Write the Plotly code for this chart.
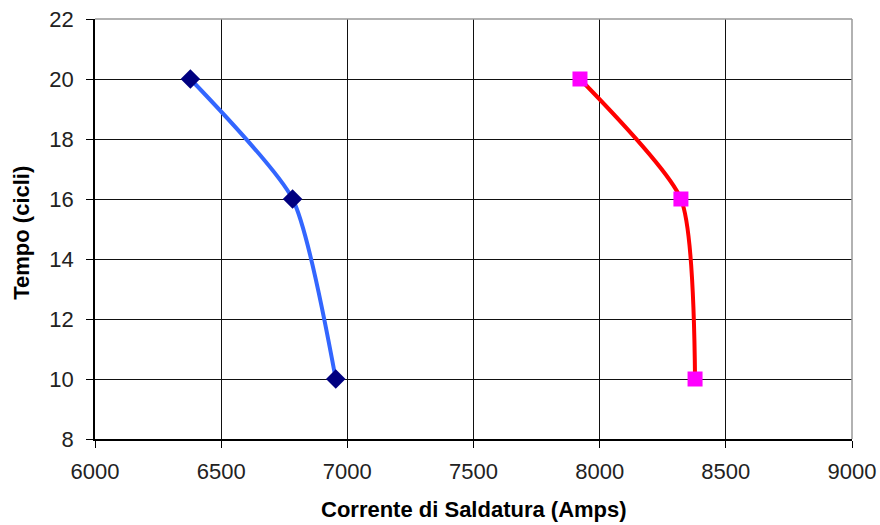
import plotly.graph_objects as go

# Welding current (A) vs. time (cycles) for the two curves
tempo = [20, 16, 10]
corrente_a = [6378, 6783, 6954]
corrente_b = [7922, 8322, 8378]

x_ticks = [6000, 6500, 7000, 7500, 8000, 8500, 9000]
y_ticks = [8, 10, 12, 14, 16, 18, 20, 22]

fig = go.Figure()

fig.add_trace(go.Scatter(
    x=corrente_a, y=tempo, mode="lines+markers",
    line=dict(color="#3366FF", width=4, shape="spline", smoothing=0.6),
    marker=dict(symbol="diamond", size=15, color="#000080"),
    showlegend=False,
))
fig.add_trace(go.Scatter(
    x=corrente_b, y=tempo, mode="lines+markers",
    line=dict(color="#FF0000", width=4, shape="spline", smoothing=0.6),
    marker=dict(symbol="square", size=15, color="#FF00FF"),
    showlegend=False,
))

font = "Liberation Sans, Arial, sans-serif"

fig.update_layout(
    width=880, height=525,
    margin=dict(l=95, r=28, t=19, b=86),
    paper_bgcolor="white", plot_bgcolor="white",
    font=dict(family=font, color="#000000"),
    xaxis=dict(
        range=[6000, 9000], tickvals=x_ticks, automargin=False,
        showgrid=True, gridcolor="#111111", gridwidth=1.2,
        showline=True, linecolor="#000000", linewidth=1.5,
        ticks="outside", ticklen=7, tickcolor="#000000",
        ticklabelstandoff=5,
        tickfont=dict(size=22, family=font, color="#222222"),
        zeroline=False,
    ),
    yaxis=dict(
        range=[8, 22], tickvals=y_ticks, automargin=False,
        showgrid=True, gridcolor="#111111", gridwidth=1.2,
        showline=True, linecolor="#000000", linewidth=1.5,
        ticks="outside", ticklen=7, tickcolor="#000000",
        ticklabelstandoff=8,
        tickfont=dict(size=22, family=font, color="#222222"),
        zeroline=False,
    ),
    annotations=[
        dict(text="<b>Corrente di Saldatura (Amps)</b>", xref="paper", yref="paper",
             x=0.5, y=-0.167, xanchor="center", yanchor="middle", showarrow=False,
             font=dict(size=22, family=font, color="#000000")),
        dict(text="<b>Tempo (cicli)</b>", xref="paper", yref="paper",
             x=-0.097, y=0.49, xanchor="center", yanchor="middle", showarrow=False,
             textangle=-90, font=dict(size=22, family=font, color="#000000")),
    ],
    shapes=[
        dict(type="line", xref="paper", yref="paper", x0=0, x1=1, y0=1, y1=1,
             line=dict(color="#999999", width=1.5)),
        dict(type="line", xref="paper", yref="paper", x0=1, x1=1, y0=0, y1=1,
             line=dict(color="#999999", width=1.5)),
    ],
)

fig.write_html("out.html")
